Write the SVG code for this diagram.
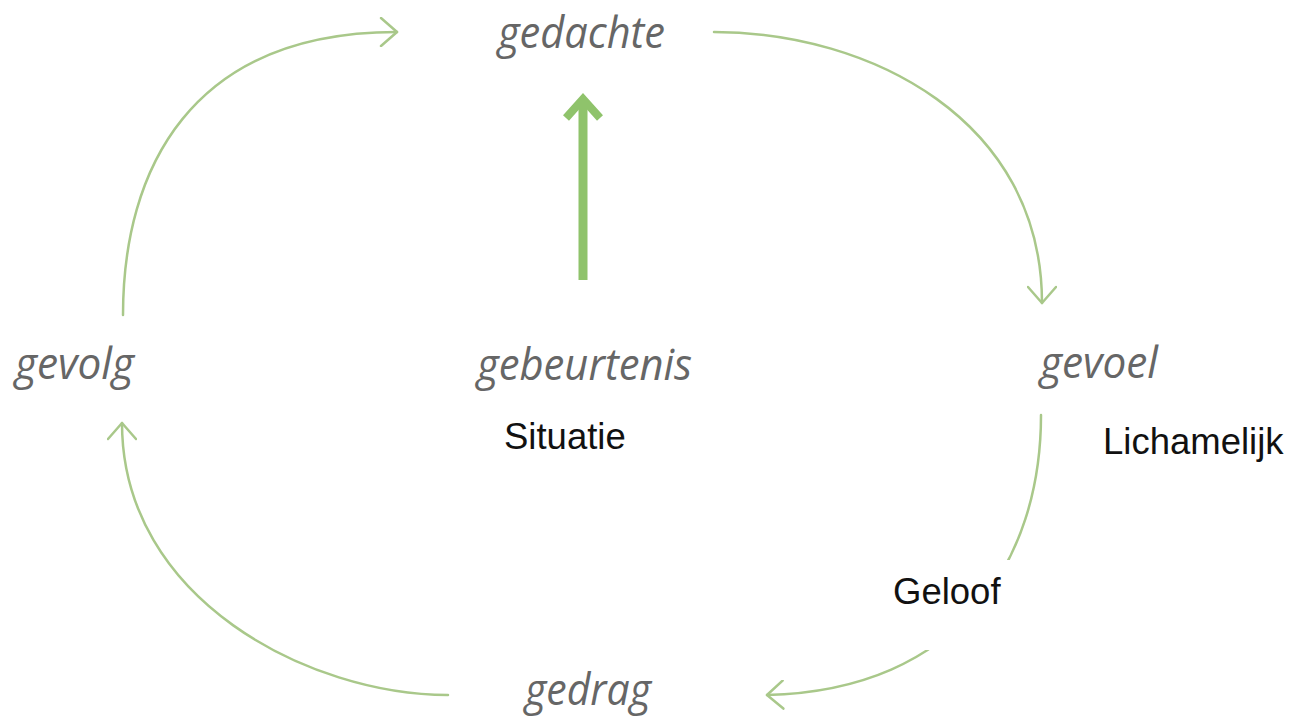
<svg xmlns="http://www.w3.org/2000/svg" width="1305" height="725" viewBox="0 0 1305 725">
<style>
.conn{fill:none;stroke:#a9c88a;stroke-width:2.5;stroke-linecap:round}
.lbl{font-family:"Open Sans","DejaVu Sans",sans-serif;font-style:italic;font-size:43px;fill:#666666}
.note{font-family:"Liberation Sans",Arial,sans-serif;font-size:36.5px;fill:#111}
</style>
<defs>
<marker id="chev" viewBox="0 0 20 30" refX="18" refY="15" markerWidth="20" markerHeight="30" markerUnits="userSpaceOnUse" orient="auto">
<path d="M2,1 L18,15 L2,29" fill="none" stroke="#a9c88a" stroke-width="2.5" stroke-linecap="round" stroke-linejoin="round"/>
</marker>
</defs>
<rect width="1305" height="725" fill="#ffffff"/>
<g id="connectors">
<path class="conn" d="M123,315 C123,170 190,32 397,32" marker-end="url(#chev)"/>
<path class="conn" d="M714,32 C870,32 1042,120 1042,303" marker-end="url(#chev)"/>
<path class="conn" d="M1041,415 C1041,560 960,690 767,695" marker-end="url(#chev)"/>
<path class="conn" d="M448,695 C310,695 122,600 122,423" marker-end="url(#chev)"/>
<g id="main-arrow">
<line x1="583" y1="280" x2="583" y2="101" stroke="#8fc36b" stroke-width="9"/>
<polyline points="566,118 583,99 600,118" fill="none" stroke="#8fc36b" stroke-width="8" stroke-linejoin="miter"/>
</g>
</g>
<g id="gedachte"><text class="lbl" x="498" y="48" textLength="167" lengthAdjust="spacingAndGlyphs">gedachte</text></g>
<g id="gevolg"><text class="lbl" x="15" y="379" textLength="119" lengthAdjust="spacingAndGlyphs">gevolg</text></g>
<g id="gebeurtenis"><text class="lbl" x="477" y="380" textLength="215" lengthAdjust="spacingAndGlyphs">gebeurtenis</text></g>
<g id="gevoel"><text class="lbl" x="1040" y="378" textLength="118" lengthAdjust="spacingAndGlyphs">gevoel</text></g>
<g id="gedrag"><text class="lbl" x="525" y="705" textLength="126" lengthAdjust="spacingAndGlyphs">gedrag</text></g>
<g id="situatie"><text class="note" x="504" y="449">Situatie</text></g>
<g id="lichamelijk"><text class="note" x="1103" y="454">Lichamelijk</text></g>
<g id="geloof">
<rect x="860" y="560" width="195" height="90" fill="#ffffff"/>
<text class="note" x="893" y="604">Geloof</text>
</g>
</svg>
